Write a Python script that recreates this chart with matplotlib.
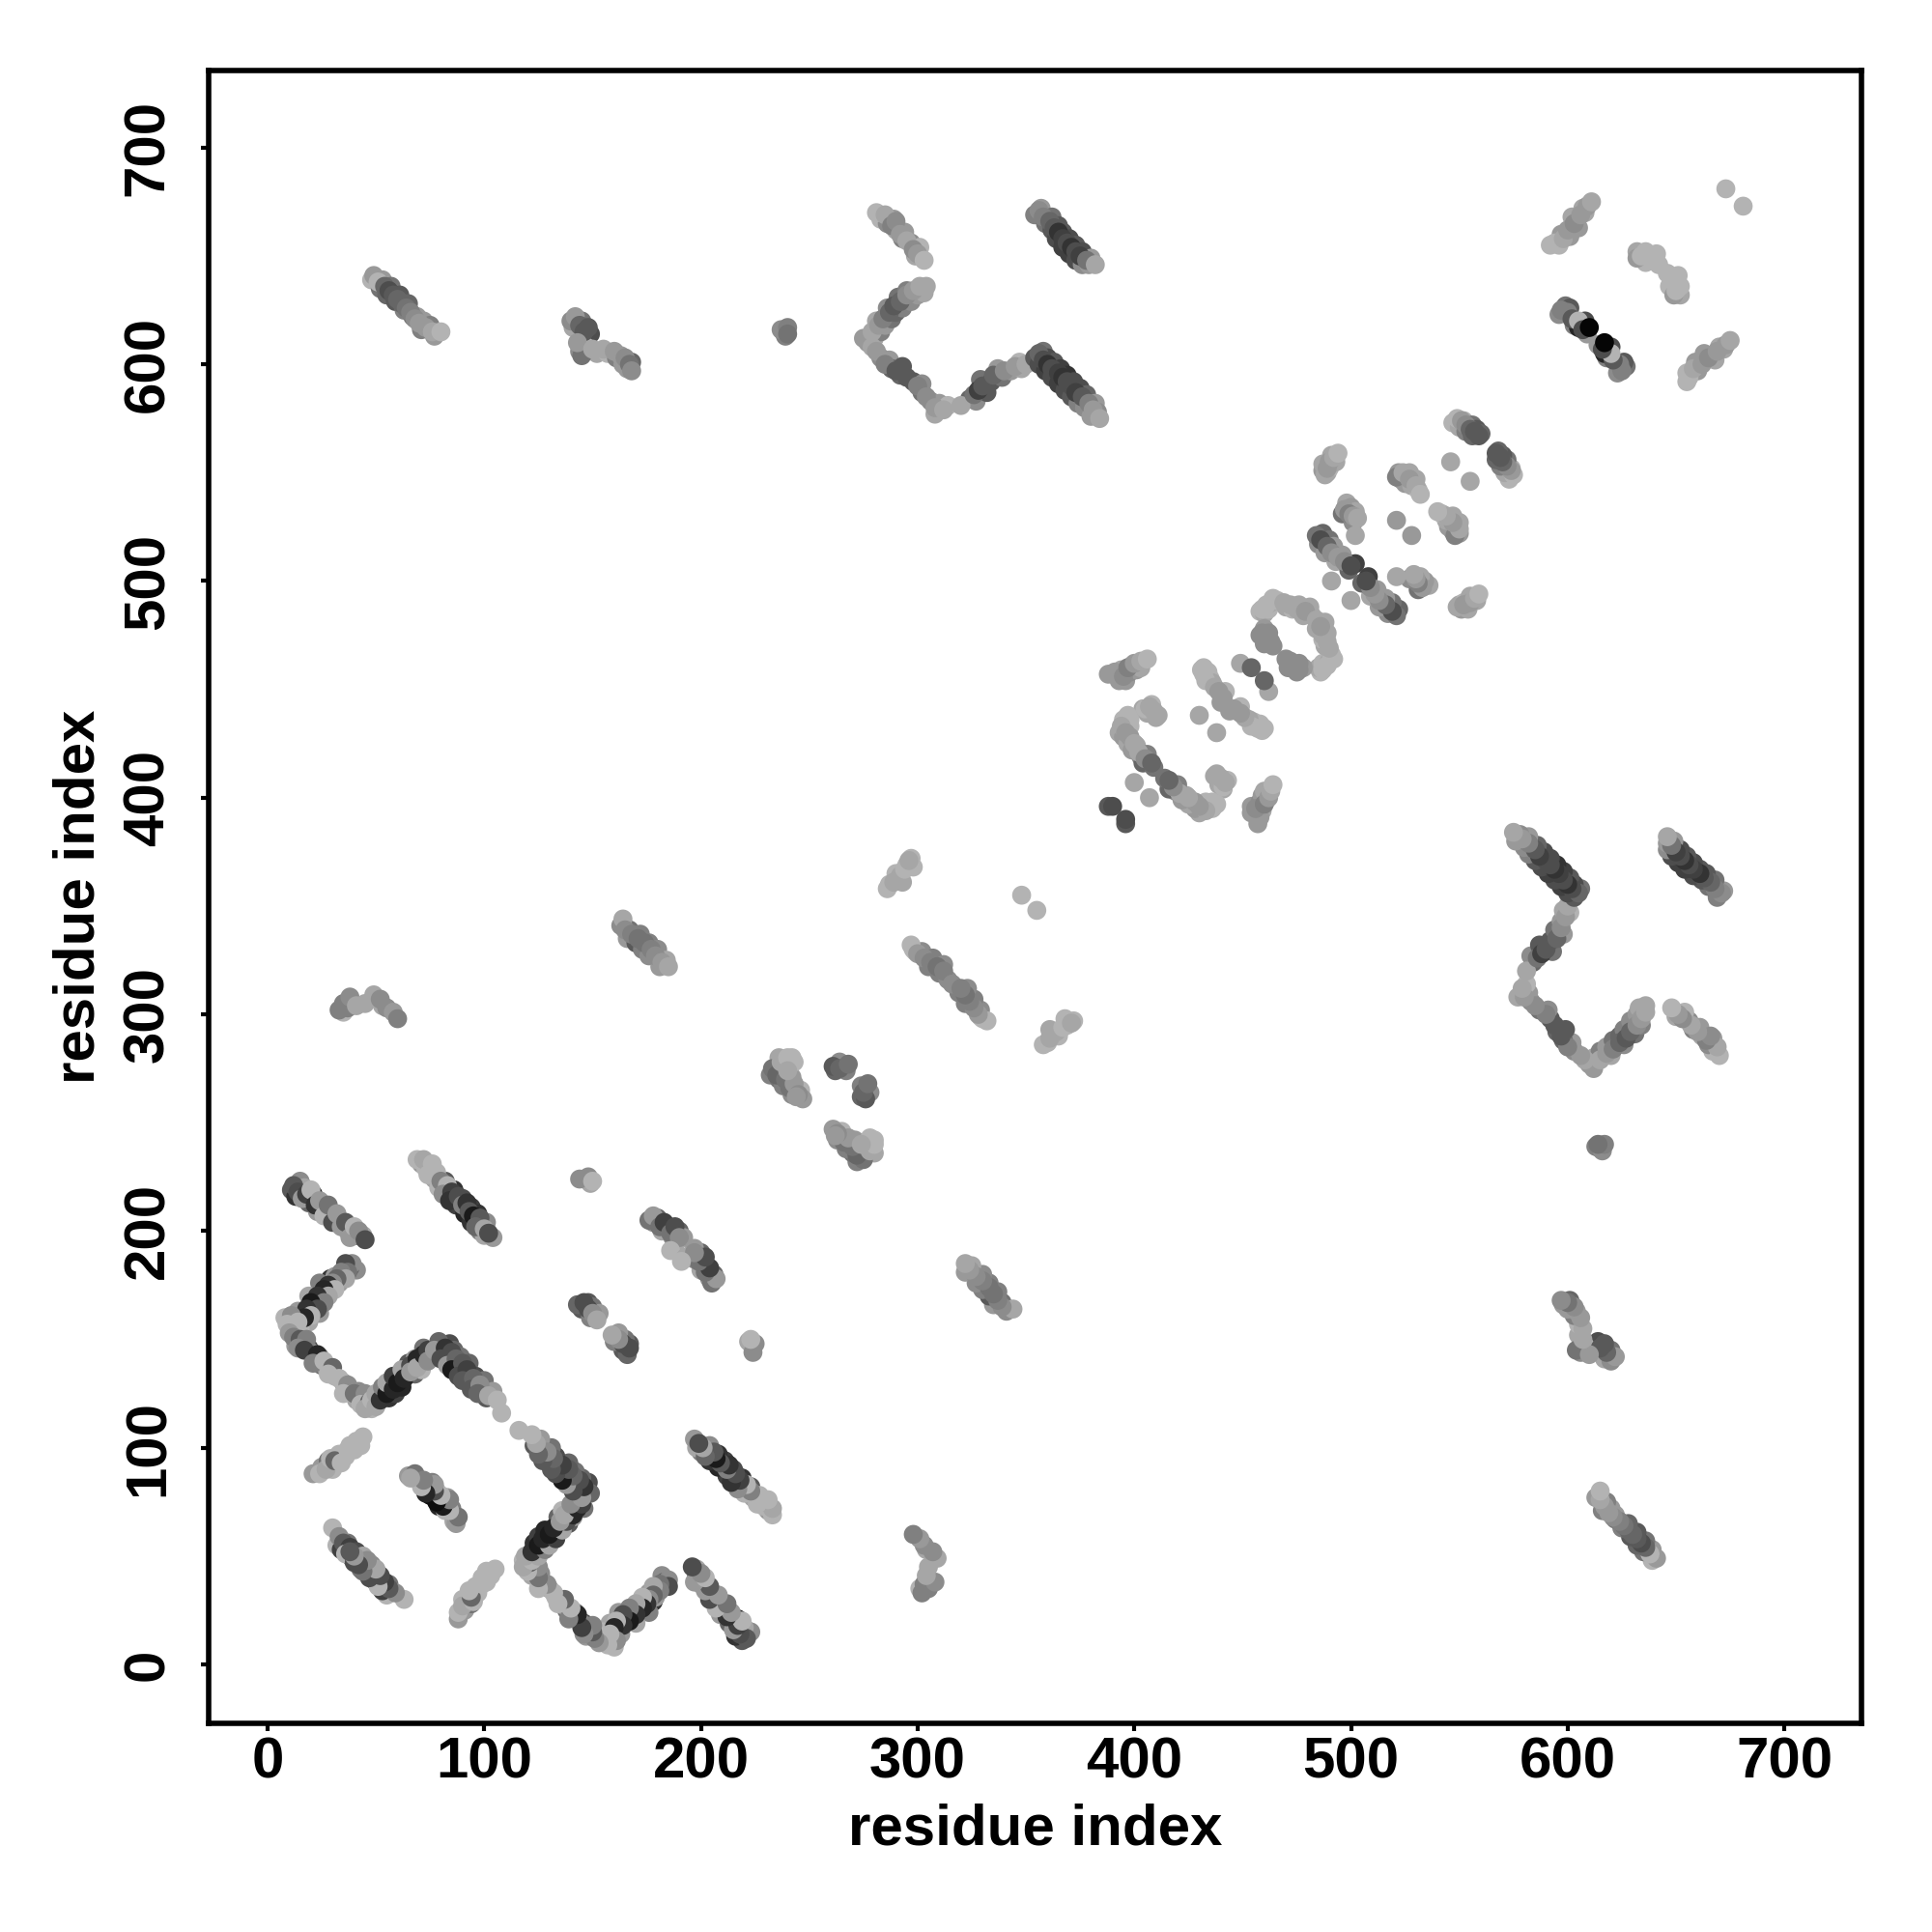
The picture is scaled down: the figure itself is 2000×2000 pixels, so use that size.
"""Residue contact map, symmetric about the diagonal."""

import matplotlib

matplotlib.use("Agg")
import matplotlib.pyplot as plt

# each entry is (residue a, residue b, grey level); only one side of the diagonal is listed
strand_helix_1 = [
    (15, 223, .55), (11, 219, .35), (13, 216, .2), (17, 220, .65), (21, 217, .15), (19, 213, .4),
    (25, 212, .35), (23, 209, .6), (27, 210, .3), (29, 208, .25), (31, 205, .5), (33, 205, .15),
    (35, 202, .3), (37, 200, .6), (39, 200, .65), (41, 198, .3), (44, 198, .65),
    (12, 221, .35), (14, 218, .3), (16, 215, .6), (18, 217, .25), (20, 219, .7), (22, 212, .2),
    (24, 214, .6), (26, 207, .7), (28, 212, .45), (30, 204, .3), (32, 208, .6), (34, 202, .6),
    (36, 204, .35), (38, 197, .6), (40, 202, .7), (42, 200, .55), (45, 196, .3),
]
strand_helix_2 = [
    (71, 231, .6), (73, 229, .7), (75, 228, .55), (77, 224, .65), (79, 220, .7), (82, 223, .35),
    (83, 216, .2), (86, 219, .2), (87, 212, .25), (90, 215, .3), (91, 208, .15), (94, 211, .25),
    (94, 204, .2), (97, 208, .2), (98, 200, .5), (101, 204, .55), (100, 198, .65), (104, 197, .6),
    (69, 233, .7), (72, 233, .65), (76, 231, .7), (74, 226, .7), (78, 227, .7), (80, 223, .5),
    (83, 221, .7), (81, 217, .55), (85, 218, .25), (84, 214, .2), (88, 216, .3), (90, 212, .5),
    (92, 213, .2), (93, 209, .35), (95, 207, .1), (98, 206, .35), (96, 202, .4), (100, 201, .65),
    (102, 199, .3),
]
zigzag_up = [
    (41, 182, .55), (38, 183, .4), (33, 176, .6), (29, 178, .2), (31, 179, .6), (26, 170, .15),
    (24, 176, .5), (29, 172, .7), (21, 167, .2), (24, 162, .6), (19, 170, .65), (16, 162, .1),
    (19, 158, .65), (14, 163, .6), (12, 157, .6), (8, 160, .7), (15, 155, .7),
    (39, 185, .55), (36, 185, .3), (37, 181, .45), (34, 181, .5), (36, 178, .65), (32, 178, .4),
    (30, 176, .55), (28, 175, .2), (31, 173, .7), (26, 173, .15), (28, 170, .65), (23, 170, .2),
    (26, 167, .5), (20, 167, .1), (23, 164, .3), (18, 164, .2), (20, 161, .7), (17, 160, .15),
    (11, 161, .55), (14, 158, .7), (9, 157, .7),
]
zigzag_down = [
    (10, 153, .6), (13, 147, .6), (16, 148, .4), (19, 146, .3), (20, 144, .6), (25, 138, .45),
    (24, 142, .5), (27, 137, .6), (31, 133, .7), (35, 130, .6), (38, 126, .4), (41, 122, .65),
    (42, 126, .55), (46, 124, .6), (48, 118, .7),
    (12, 151, .5), (15, 150, .35), (18, 150, .5), (14, 146, .55), (17, 145, .25), (23, 143, .15),
    (21, 139, .5), (26, 140, .7), (30, 137, .4), (28, 134, .7), (33, 132, .7), (37, 129, .55),
    (35, 125, .7), (40, 125, .45), (45, 125, .55), (43, 120, .7), (47, 121, .4), (45, 118, .65),
]
zigzag_rise = [
    (48, 122, .7), (50, 119, .65), (53, 126, .3), (56, 123, .2), (57, 129, .3), (59, 125, .25),
    (60, 133, .7), (62, 128, .15), (64, 133, .6), (65, 139, .35), (68, 134, .4), (68, 141, .6),
    (71, 138, .6), (72, 146, .45), (76, 142, .55), (71, 136, .7),
    (50, 125, .65), (52, 122, .2), (53, 128, .5), (55, 125, .1), (55, 130, .65), (58, 127, .15),
    (58, 133, .25), (60, 130, .1), (62, 136, .65), (63, 132, .15), (66, 138, .3), (66, 135, .6),
    (69, 141, .15), (69, 137, .65), (72, 143, .15), (74, 145, .25), (74, 140, .55),
]
zigzag_fall = [
    (80, 146, .25), (82, 143, .15), (84, 148, .3), (86, 140, .05), (86, 145, .4), (89, 136, .15),
    (89, 142, .45), (92, 133, .1), (93, 139, .4), (94, 130, .2), (96, 133, .3), (98, 126, .3),
    (100, 131, .45), (101, 123, .35), (104, 126, .6),
    (79, 149, .4), (77, 145, .6), (82, 146, .2), (80, 141, .3), (85, 144, .3), (83, 138, .6),
    (87, 141, .4), (85, 136, .1), (90, 139, .35), (88, 133, .3), (92, 136, .25), (90, 131, .35),
    (95, 132, .4), (94, 127, .35), (98, 129, .55), (97, 125, .4), (102, 124, .65), (106, 122, .7),
    (108, 116, .7),
]
low_rise = [
    (21, 88, .6), (25, 91, .6), (28, 94, .45), (30, 90, .7), (33, 97, .7), (36, 96, .7),
    (38, 101, .7), (41, 103, .7), (44, 105, .7), (43, 101, .7), (24, 88, .7), (27, 90, .65),
    (29, 95, .7), (31, 94, .4), (34, 93, .7), (37, 99, .7), (40, 99, .7),
]
short_pair_1 = [
    (65, 87, .6), (68, 88, .45), (71, 84, .7), (73, 81, .1), (76, 84, .5), (75, 78, .05),
    (78, 80, .7), (80, 77, .3), (83, 77, .6), (79, 73, .15), (82, 71, .7), (85, 72, .5),
    (86, 66, .65),
]
short_pair_2 = [
    (32, 55, .7), (34, 53, .25), (37, 56, .45), (39, 49, .3), (42, 49, .7), (45, 47, .3),
    (47, 44, .4), (49, 43, .65),
    (30, 63, .7), (33, 59, .55), (35, 56, .35), (38, 54, .25), (36, 51, .7), (41, 52, .3),
    (40, 47, .3), (44, 50, .65), (43, 44, .45), (48, 46, .55), (46, 42, .3), (50, 40, .6),
    (52, 38, .35),
]
strand_300 = [
    (35, 301, .7), (37, 303, .5), (53, 304, .65),
    (33, 302, .5), (35, 305, .5), (38, 308, .55), (41, 304, .65), (45, 305, .65), (49, 309, .65),
    (52, 307, .55), (55, 303, .55), (58, 301, .6), (60, 298, .5),
]
strand_640 = [
    (48, 639, .7), (52, 635, .45), (53, 639, .6), (55, 632, .4), (57, 636, .45), (59, 629, .35),
    (61, 632, .35), (63, 625, .5), (65, 628, .4), (67, 622, .45), (69, 622, .6), (71, 616, .5),
    (72, 620, .6), (75, 618, .5), (77, 613, .6),
    (49, 641, .6), (51, 638, .7), (54, 636, .4), (56, 634, .3), (58, 632, .35), (60, 630, .4),
    (62, 628, .4), (64, 626, .45), (66, 624, .5), (68, 621, .55), (70, 619, .6), (73, 617, .6),
    (76, 615, .65), (80, 615, .7),
]
strand_610 = [
    (141, 617, .65), (145, 620, .45), (147, 612, .6), (149, 614, .3), (144, 606, .55), (147, 608, .7),
    (152, 605, .65), (157, 605, .7), (161, 603, .5), (164, 600, .6), (168, 601, .4), (166, 598, .6),
    (140, 620, .55), (142, 622, .6), (144, 618, .4), (146, 615, .35), (148, 617, .35), (145, 604, .45),
    (143, 610, .6), (150, 607, .65), (155, 607, .65), (160, 606, .6), (163, 604, .6), (165, 603, .55),
    (167, 600, .45), (168, 597, .55),
]
dots_238 = [
    (238, 615, .6), (239, 613, .5), (237, 616, .55), (240, 617, .5), (240, 614, .45),
]
strand_670 = [
    (283, 667, .7), (286, 665, .55), (289, 667, .6), (290, 662, .65), (293, 658, .5), (294, 661, .6),
    (297, 656, .55), (299, 650, .65), (301, 654, .7),
    (281, 670, .7), (285, 669, .65), (288, 664, .5), (290, 666, .55), (292, 660, .6), (295, 657, .65),
    (298, 653, .55), (300, 651, .6), (303, 648, .7),
]
loop_rise = [
    (277, 610, .6), (278, 612, .7), (280, 612, .65), (281, 620, .65), (283, 615, .5), (285, 618, .6),
    (286, 626, .55), (288, 621, .45), (290, 624, .4), (291, 631, .45), (293, 626, .5), (295, 634, .5),
    (297, 629, .55), (300, 632, .6), (303, 633, .65), (304, 636, .65),
    (275, 612, .6), (279, 615, .65), (282, 618, .6), (284, 621, .5), (287, 624, .4), (289, 627, .35),
    (292, 629, .4), (295, 632, .55), (298, 634, .6), (301, 636, .65),
]
loop_fall = [
    (279, 608, .65), (283, 603, .55), (287, 602, .6), (288, 598, .4), (292, 595, .4), (293, 599, .35),
    (298, 592, .35), (302, 587, .45), (302, 591, .55), (306, 583, .55), (310, 582, .6), (308, 577, .65),
    (314, 581, .7), (324, 584, .4), (327, 583, .55), (329, 593, .45), (332, 587, .35), (334, 592, .35),
    (337, 598, .6), (339, 594, .45), (343, 597, .6), (348, 598, .65), (347, 601, .7),
    (281, 606, .6), (285, 600, .5), (290, 597, .35), (295, 594, .35), (300, 590, .5), (304, 585, .55),
    (308, 580, .6), (312, 579, .65), (320, 581, .65), (326, 586, .45), (328, 588, .25), (330, 590, .35),
    (335, 595, .4), (340, 597, .55), (345, 599, .6), (350, 600, .65),
]
strand_660 = [
    (354, 669, .5), (357, 672, .6), (359, 665, .45), (362, 668, .45), (362, 662, .35), (365, 664, .35),
    (364, 658, .3), (367, 661, .35), (367, 654, .25), (370, 658, .3), (370, 651, .25), (373, 655, .35),
    (373, 648, .3), (376, 652, .3), (376, 646, .55), (380, 649, .6), (379, 646, .6),
    (356, 671, .55), (358, 668, .5), (361, 666, .4), (363, 663, .35), (365, 661, .2), (367, 658, .25),
    (369, 656, .3), (371, 654, .2), (373, 652, .3), (375, 650, .25), (378, 648, .45), (382, 646, .65),
]
strand_590 = [
    (354, 603, .35), (358, 606, .45), (356, 600, .3), (360, 603, .3), (359, 597, .25), (363, 601, .35),
    (362, 594, .3), (366, 598, .25), (365, 591, .25), (369, 595, .2), (368, 588, .3), (372, 592, .3),
    (371, 585, .35), (375, 589, .3), (374, 582, .5), (378, 586, .4), (377, 580, .55), (382, 582, .6),
    (380, 576, .6), (383, 578, .55),
    (356, 605, .4), (358, 602, .3), (360, 600, .2), (362, 598, .3), (365, 596, .25), (367, 594, .2),
    (369, 592, .3), (371, 590, .3), (373, 587, .25), (376, 585, .35), (379, 582, .5), (381, 579, .6),
    (384, 575, .65),
]
strand_top_right = [
    (592, 655, .7), (596, 655, .7), (597, 660, .6), (601, 659, .6), (602, 668, .65), (605, 663, .6),
    (607, 672, .65), (608, 670, .65), (632, 652, .65), (636, 647, .7), (636, 652, .7), (641, 651, .7),
    (596, 623, .55), (599, 627, .45), (601, 626, .35), (603, 618, .5), (605, 617, .15), (608, 620, .3),
    (609, 614, .6),
    (594, 656, .7), (598, 658, .65), (600, 662, .6), (603, 665, .55), (606, 669, .6), (609, 673, .6),
    (611, 675, .65), (632, 649, .6), (634, 650, .7), (638, 650, .7), (640, 648, .7), (642, 646, .7),
    (597, 625, .5), (600, 624, .5), (602, 621, .35), (605, 620, .7), (607, 616, .3), (610, 617, .02),
    (673, 681, .7),
]
strand_mid = [
    (163, 341, .55), (167, 339, .45), (166, 335, .6), (170, 333, .35), (172, 337, .5), (173, 330, .5),
    (176, 333, .5), (176, 327, .55), (180, 330, .55), (181, 322, .6), (184, 325, .65), (287, 360, .7),
    (290, 365, .7), (293, 361, .65), (295, 369, .7), (298, 368, .7), (297, 372, .7), (299, 329, .65),
    (298, 330, .7), (302, 329, .55), (305, 322, .5), (307, 326, .5), (310, 319, .5), (312, 323, .55),
    (314, 316, .55),
    (164, 344, .65), (165, 339, .55), (168, 337, .5), (171, 335, .45), (174, 333, .45), (177, 330, .5),
    (179, 327, .55), (182, 324, .6), (185, 322, .65), (286, 358, .7), (289, 361, .65), (292, 364, .65),
    (294, 367, .7), (296, 371, .65), (297, 332, .7), (300, 328, .6), (303, 326, .55), (306, 324, .5),
    (309, 322, .45), (312, 320, .5), (348, 355, .7),
]
strand_turn = [
    (232, 272, .5), (234, 275, .35), (236, 270, .45), (238, 276, .55), (236, 280, .65), (242, 280, .7),
    (238, 267, .5), (242, 271, .6), (246, 265, .7), (242, 263, .55), (247, 261, .6), (262, 274, .4),
    (264, 278, .55), (267, 274, .5), (238, 273, .4), (243, 278, .7),
    (233, 275, .45), (235, 272, .4), (237, 278, .65), (240, 280, .7), (239, 270, .45), (241, 266, .45),
    (243, 268, .6), (245, 263, .55), (240, 274, .65), (244, 262, .6), (261, 276, .35), (264, 275, .4),
    (268, 277, .45),
]
strand_150_220 = [
    (146, 224, .6), (149, 222, .65), (145, 164, .35), (148, 167, .35), (150, 165, .45), (149, 160, .5),
    (153, 162, .6), (178, 204, .55), (180, 206, .4), (182, 200, .65), (185, 202, .25), (187, 197, .55),
    (190, 200, .4), (192, 197, .6), (188, 193, .65),
    (144, 224, .55), (148, 225, .55), (150, 223, .7), (143, 166, .4), (146, 167, .3), (148, 164, .3),
    (150, 162, .55), (152, 159, .65), (176, 205, .45), (178, 207, .6), (181, 202, .45), (183, 204, .25),
    (186, 199, .45), (188, 202, .3), (190, 197, .55), (186, 191, .7),
]
diagonal_upper = [
    (547, 573, .7), (550, 571, .65), (552, 574, .7), (553, 569, .5), (556, 572, .45), (556, 567, .4),
    (558, 570, .35), (560, 568, .4), (487, 551, .6), (487, 554, .65), (489, 550, .65), (490, 552, .7),
    (491, 558, .65), (493, 555, .65), (522, 550, .6), (523, 547, .55), (525, 545, .6), (527, 550, .65),
    (528, 544, .65), (530, 547, .65), (531, 542, .7), (498, 536, .65), (496, 531, .45), (500, 534, .6),
    (502, 532, .65), (501, 527, .55), (485, 517, .55), (487, 522, .4), (490, 519, .45), (488, 513, .6),
    (492, 516, .6), (493, 509, .65), (496, 512, .6), (499, 505, .4), (502, 508, .25),
    (549, 575, .7), (551, 574, .6), (553, 572, .55), (555, 570, .4), (557, 569, .35), (559, 567, .35),
    (546, 555, .65), (488, 549, .65), (489, 552, .6), (490, 555, .6), (492, 557, .65), (494, 559, .7),
    (521, 548, .5), (524, 550, .65), (527, 547, .6), (530, 544, .65), (532, 540, .7), (521, 528, .6),
    (497, 533, .6), (499, 531, .5), (501, 530, .6), (503, 529, .65), (502, 521, .65), (484, 521, .45),
    (486, 519, .3), (489, 516, .4), (491, 513, .55), (494, 511, .6), (497, 509, .55), (500, 507, .3),
    (491, 500, .65),
]
diagonal_lower = [
    (458, 486, .7), (460, 485, .65), (462, 487, .7), (463, 490, .65), (466, 491, .7), (470, 488, .65),
    (473, 487, .7), (476, 489, .65), (478, 484, .65), (481, 488, .65), (482, 484, .65), (458, 475, .55),
    (460, 478, .6), (462, 476, .55), (460, 471, .55), (464, 470, .55), (431, 459, .7), (434, 458, .7),
    (435, 455, .7), (436, 453, .65), (440, 448, .65), (442, 449, .7), (440, 444, .6), (392, 457, .7),
    (394, 459, .65), (393, 454, .6), (396, 454, .6), (398, 458, .55), (399, 461, .6), (401, 459, .6),
    (403, 460, .65), (404, 441, .65), (406, 439, .65), (408, 443, .7), (410, 437, .65), (395, 436, .7),
    (398, 436, .7), (393, 430, .65), (395, 428, .6), (397, 425, .65), (399, 422, .6), (401, 424, .65),
    (403, 419, .55), (404, 416, .4), (406, 420, .5), (409, 414, .45), (398, 433, .7),
    (459, 487, .7), (461, 489, .7), (464, 492, .7), (469, 490, .65), (472, 489, .65), (475, 487, .65),
    (479, 486, .6), (459, 476, .55), (461, 474, .55), (463, 472, .55), (449, 462, .65), (454, 460, .4),
    (432, 460, .7), (432, 457, .7), (433, 454, .7), (437, 451, .65), (439, 449, .6), (441, 446, .6),
    (430, 438, .65), (388, 457, .6), (391, 458, .6), (395, 456, .55), (397, 460, .5), (400, 462, .6),
    (403, 463, .65), (406, 464, .7), (405, 441, .7), (407, 442, .65), (409, 440, .65), (411, 438, .65),
    (397, 438, .7), (394, 433, .65), (396, 430, .6), (398, 428, .6), (400, 425, .65), (402, 421, .65),
    (405, 418, .55), (408, 416, .4), (400, 407, .65), (388, 396, .35), (390, 396, .3),
]

tick_values = [0, 100, 200, 300, 400, 500, 600, 700]

contacts = (
    strand_helix_1 + strand_helix_2 + zigzag_up + zigzag_down + zigzag_rise + zigzag_fall
    + low_rise + short_pair_1 + short_pair_2 + strand_300 + strand_640 + strand_610 + dots_238
    + strand_670 + loop_rise + loop_fall + strand_660 + strand_590 + strand_top_right
    + strand_mid + strand_turn + strand_150_220 + diagonal_upper + diagonal_lower
)
res_a = [c[0] for c in contacts]
res_b = [c[1] for c in contacts]
greys = [str(c[2]) for c in contacts]

plt.rcParams["font.family"] = ["Liberation Sans", "DejaVu Sans"]
plt.rcParams["font.weight"] = "bold"

fig = plt.figure(figsize=(10, 10), dpi=200)
ax = fig.add_axes([0.108, 0.108, 0.8555, 0.8555])

ax.scatter(res_a, res_b, s=50, c=greys, linewidths=0)
ax.scatter(res_b, res_a, s=50, c=greys, linewidths=0)

ax.set_xlim(-27.2, 735.6)
ax.set_ylim(-27.2, 735.6)
ax.set_xticks(tick_values)
ax.set_yticks(tick_values)
ax.tick_params(axis="both", length=3, width=1.5, labelsize=21.6)
ax.tick_params(axis="x", pad=2)
ax.tick_params(axis="y", pad=9.5)
for label in ax.get_yticklabels():
    label.set_rotation(90)
    label.set_va("center")
for spine in ax.spines.values():
    spine.set_linewidth(2)

ax.set_xlabel("residue index", fontsize=21.6, fontweight="bold", labelpad=4.8)
ax.set_ylabel("residue index", fontsize=21.6, fontweight="bold", labelpad=6)

fig.savefig("out.png", dpi=200, facecolor="white")
